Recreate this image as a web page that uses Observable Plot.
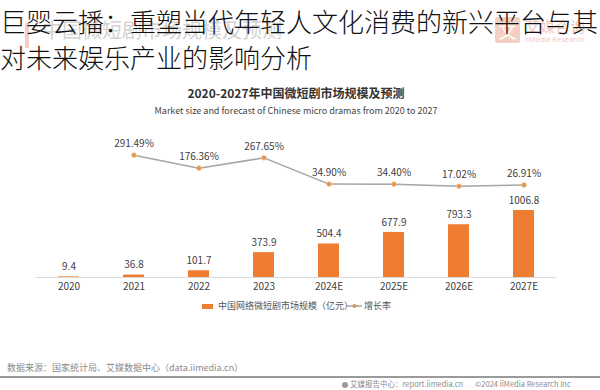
<!DOCTYPE html>
<html>
<head>
<meta charset="utf-8">
<script src="https://cdn.jsdelivr.net/npm/d3@7"></script>
<script src="https://cdn.jsdelivr.net/npm/@observablehq/plot@0.6"></script>
<style>
  html, body { margin: 0; padding: 0; background: #fff; }
  #wrap { position: relative; width: 600px; height: 390px; overflow: hidden; font-family: "Noto Sans CJK SC", "Noto Sans", sans-serif; }
  #wrap svg { position: absolute; left: 0; top: 0; }
  .abs { position: absolute; white-space: nowrap; }
</style>
</head>
<body>
<div id="wrap"></div>
<script>
// ---- data ----
const years = ["2020", "2021", "2022", "2023", "2024E", "2025E", "2026E", "2027E"];
const marketSize = [9.4, 36.8, 101.7, 373.9, 504.4, 677.9, 793.3, 1006.8]; // 亿元
const rateYears = ["2021", "2022", "2023", "2024E", "2025E", "2026E", "2027E"];
const growthRate = [291.49, 176.36, 267.65, 34.90, 34.40, 17.02, 26.91]; // %

const pageTitle = ["巨婴云播：重塑当代年轻人文化消费的新兴平台与其", "对未来娱乐产业的影响分析"];
const chartTitle = "2020-2027年中国微短剧市场规模及预测";
const chartSubtitle = "Market size and forecast of Chinese micro dramas from 2020 to 2027";
const legendBar = "中国网络微短剧市场规模（亿元）";
const legendLine = "增长率";
const sourceText = "数据来源：国家统计局、艾媒数据中心（data.iimedia.cn）";
const footerText = "艾媒报告中心：report.iimedia.cn";
const copyrightText = "©2024  iiMedia Research Inc";

const sizeData = years.map((y, i) => ({year: y, value: marketSize[i]}));
const rateData = rateYears.map((y, i) => ({year: y, rate: growthRate[i]}));

// secondary axis: growth rate mapped onto the bar value scale
const rateToValue = d3.scaleLinear().domain([0, 300]).range([1345, 1854]);

const ORANGE = "#EE7D31";
const TEXT = "#404040";

const chart = Plot.plot({
  width: 600,
  height: 390,
  marginTop: 144,
  marginBottom: 113,
  marginLeft: 35.5,
  marginRight: 44.5,
  style: {fontFamily: '"Noto Sans CJK SC", "Noto Sans", sans-serif', fontSize: "10px", color: TEXT, background: "transparent"},
  x: {type: "band", domain: years, paddingInner: 0.68, paddingOuter: 0.34, tickSize: 0, tickPadding: 5, label: null},
  y: {domain: [0, 2000], axis: null},
  marks: [
    Plot.ruleY([0], {stroke: "#d9d9d9", strokeWidth: 1}),
    Plot.barY(sizeData, {x: "year", y: "value", fill: ORANGE}),
    Plot.text(sizeData, {x: "year", y: "value", text: d => String(d.value), dy: -10, fill: TEXT, fontSize: 10}),
    Plot.line(rateData, {x: "year", y: d => rateToValue(d.rate), stroke: "#A5A5A5", strokeWidth: 1.5}),
    Plot.dot(rateData, {x: "year", y: d => rateToValue(d.rate), r: 2.4, fill: "#E39450", stroke: "#F2C28F", strokeWidth: 0.8}),
    Plot.text(rateData, {x: "year", y: d => rateToValue(d.rate), text: d => d.rate.toFixed(2) + "%", dy: -11.5, fill: TEXT, fontSize: 10})
  ]
});

const wrap = document.getElementById("wrap");

function addDiv(html, css) {
  const d = document.createElement("div");
  d.className = "abs";
  d.innerHTML = html;
  Object.assign(d.style, css);
  wrap.appendChild(d);
  return d;
}

// faint watermark layer (behind the page title)
addDiv("", {left: "25px", top: "23px", width: "4px", height: "25px", background: "#f4cdc4"});
addDiv("中国微短剧市场规模及预测", {left: "42px", top: "18px", fontSize: "20px", lineHeight: "24px", color: "#d2d2d2"});
addDiv('<span style="color:#fff;font-size:18px;line-height:26px;">文</span>', {left: "495px", top: "17px", width: "25px", height: "26px", background: "#f3cfc4", textAlign: "center", borderRadius: "2px"});
addDiv("艾媒咨询", {left: "525px", top: "17px", fontSize: "15px", lineHeight: "18px", color: "#f1c9bf"});
addDiv("iiMedia Research", {left: "525px", top: "35px", fontSize: "7.5px", lineHeight: "9px", color: "#f1c9bf", fontFamily: '"Open Sans", sans-serif'});

// chart svg
wrap.appendChild(chart);

// page title
addDiv(pageTitle.join("<br>"), {left: "0px", top: "3px", fontSize: "26px", lineHeight: "36px", color: "#111", fontWeight: "300"});

// chart title + subtitle
addDiv(chartTitle, {left: "0px", width: "592px", top: "85px", textAlign: "center", fontSize: "12px", lineHeight: "16px", color: "#333", fontWeight: "bold"});
addDiv(chartSubtitle, {left: "0px", width: "592px", top: "105px", textAlign: "center", fontSize: "9px", lineHeight: "12px", color: "#444"});

// legend
addDiv("", {left: "202px", top: "303.5px", width: "11px", height: "5px", background: ORANGE});
addDiv(legendBar, {left: "218px", top: "300px", fontSize: "9px", lineHeight: "12px", color: "#555"});
addDiv('<svg width="15" height="8"><line x1="0" y1="4" x2="15" y2="4" stroke="#A5A5A5" stroke-width="1.5"/><circle cx="7.5" cy="4" r="2" fill="#E39450"/></svg>', {left: "347px", top: "302px", lineHeight: "0"});
addDiv(legendLine, {left: "364px", top: "300px", fontSize: "9px", lineHeight: "12px", color: "#555"});

// footer
addDiv(sourceText, {left: "7px", top: "362px", fontSize: "9px", lineHeight: "12px", color: "#8a8a8a"});
addDiv("", {left: "0px", top: "376px", width: "600px", height: "1.5px", background: "#9a9a9a"});
addDiv('<span style="display:inline-block;width:6px;height:6px;border-radius:50%;background:#999;vertical-align:-1px;margin-right:2px;"></span>' + footerText + '<span style="display:inline-block;width:12px;"></span>' + copyrightText,
  {left: "342px", top: "379px", fontSize: "7.5px", lineHeight: "10px", color: "#8a8a8a"});
</script>
</body>
</html>
